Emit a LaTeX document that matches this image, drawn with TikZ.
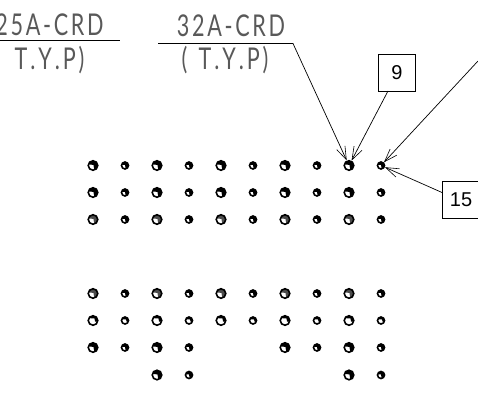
\documentclass[tikz,border=0pt]{standalone}
\usepackage{fontspec}
\setmainfont{Liberation Sans}
\newfontfamily\cadfont[FakeStretch=0.72,LetterSpace=9]{Lato}
\usetikzlibrary{arrows.meta,positioning}
\tikzset{
  bighole/.style={circle,draw=black,line width=1.6pt,fill=white,inner sep=0pt,minimum size=9.5pt,
    path picture={\fill[#1] (-6pt,1.5pt) -- (0.5pt,0.5pt) -- (1.5pt,-6pt) -- (6pt,-6pt) -- (6pt,6pt) -- (-6pt,6pt) -- cycle;}},
  smallhole/.style={circle,draw=black,line width=1.6pt,fill=white,inner sep=0pt,minimum size=7pt,
    path picture={\fill[#1] (-5pt,1pt) -- (0pt,0.5pt) -- (1pt,-5pt) -- (5pt,-5pt) -- (5pt,5pt) -- (-5pt,5pt) -- cycle;}},
  openbig/.style={circle,draw=black,line width=1.6pt,fill=white,inner sep=0pt,minimum size=9.5pt,
    path picture={\fill[black] (-6pt,2.5pt) -- (1.5pt,2pt) -- (2pt,-1pt) -- (6pt,-1pt) -- (6pt,6pt) -- (-6pt,6pt) -- cycle;}},
  opensmall/.style={circle,draw=black,line width=1.6pt,fill=white,inner sep=0pt,minimum size=7pt,
    path picture={\fill[black] (-5pt,1.5pt) -- (1pt,1pt) -- (1.5pt,-1pt) -- (5pt,-1pt) -- (5pt,5pt) -- (-5pt,5pt) -- cycle;}},
  tagbox/.style={draw=black,line width=0.7pt,minimum size=37pt,inner sep=0pt,font=\fontsize{20}{20}\selectfont},
  cadtext/.style={font=\cadfont\fontsize{30}{30}\selectfont,text=black!65,inner sep=0pt},
  leader/.style={draw=black,line width=0.7pt,-{Straight Barb[length=13pt,width=9pt,line width=0.6pt]}},
  rule/.style={draw=black,line width=0.9pt}
}
\begin{document}
\begin{tikzpicture}[x=1pt,y=-1pt]
\useasboundingbox (0,0) rectangle (478,393);
\clip (0,0) rectangle (478,393);
% top block of holes
\foreach \row/\yy/\tone in {1/165.5/black,2/192.5/black,3/219.5/black!70,4/293.5/black!70}{
  \foreach \col/\xx in {1/93,3/157,5/221,7/285,9/349}
    \node[bighole=\tone] (h\col-\row) at (\xx,\yy) {};
  \foreach \col/\xx in {2/125,4/189,6/253,8/317,10/381}
    \node[smallhole=black] (h\col-\row) at (\xx,\yy) {};
}
% bottom block of holes
\foreach \col/\xx in {1/93,3/157,5/221,7/285,9/349}
  \node[openbig] (h\col-5) at (\xx,320.5) {};
\foreach \col/\xx in {2/125,4/189,6/253,8/317,10/381}
  \node[opensmall] (h\col-5) at (\xx,320.5) {};
\foreach \col/\xx in {1/93,3/157,7/285,9/349}
  \node[bighole=black] (h\col-6) at (\xx,347.5) {};
\foreach \col/\xx in {2/125,4/189,8/317,10/381}
  \node[smallhole=black] (h\col-6) at (\xx,347.5) {};
\foreach \col/\xx in {3/157,9/349}
  \node[bighole=black] (h\col-7) at (\xx,375) {};
\foreach \col/\xx in {4/189,10/381}
  \node[smallhole=black] (h\col-7) at (\xx,375) {};

% labels
\node[cadtext] (lblA) at (49.5,24.5) {25A-CRD};
\node[cadtext] (lblAb) at (49.5,60) {T\kern3pt.\kern3pt Y\kern3pt.\kern3pt P)};
\coordinate (ruleAw) at (0,40.5);
\coordinate (ruleAe) at (119.5,40.5);
\draw[rule] (ruleAw) -- (ruleAe);

\node[cadtext] (lblB) at (231,26) {32A-CRD};
\node[cadtext] (lblBb) at (225,60.5) {(\kern3pt{} T\kern3pt.\kern3pt Y\kern3pt.\kern3pt P)};
\coordinate (ruleBw) at (158,43.5);
\coordinate (ruleBe) at (293,43.5);
\coordinate (farEnd) at (478,61);

% tags
\node[tagbox] (tagNine) at (397,72.5) {9};
\node[tagbox] (tagFifteen) at (461,199.5) {15};
\coordinate (tagExit) at (442,192.5);
\coordinate (nineExit) at (388,91);

% leaders
\draw[leader] (ruleBw) -- (ruleBe) -- (h9-1);
\draw[leader] (nineExit) -- (h9-1);
\draw[leader] (farEnd) -- (h10-1);
\draw[leader] (tagExit) -- (h10-1);
\end{tikzpicture}
\end{document}
